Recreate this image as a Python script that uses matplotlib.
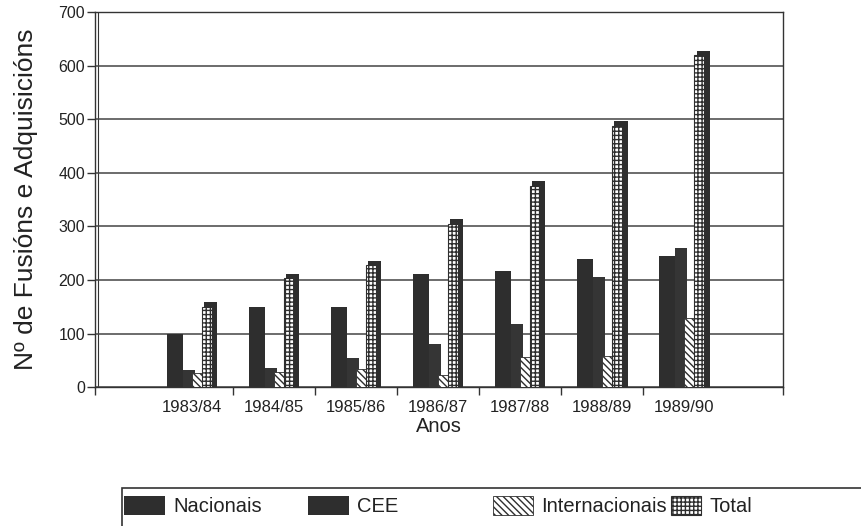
import numpy as np
import matplotlib.pyplot as plt
from matplotlib.patches import Patch, Rectangle

anos = ['1983/84', '1984/85', '1985/86', '1986/87', '1987/88', '1988/89', '1989/90']
nacionais = [100, 150, 150, 212, 216, 240, 245]
cee = [32, 36, 54, 80, 118, 206, 260]
internacionais = [27, 28, 33, 22, 56, 58, 129]
total = [150, 204, 228, 305, 376, 488, 620]

plt.rcParams['font.family'] = ['Liberation Sans', 'DejaVu Sans']
plt.rcParams['hatch.linewidth'] = 1.0

dark = '#2e2e2e'
fig = plt.figure(figsize=(8.62, 5.26), dpi=100)
ax = fig.add_axes([0.110, 0.264, 0.798, 0.713])

x = np.arange(len(anos))
ax.bar(x - 0.305, nacionais, width=0.2, align='edge', color=dark, zorder=3)
ax.bar(x - 0.11, cee, width=0.15, align='edge', color='#353535', zorder=3)
ax.bar(x + 0.0, internacionais, width=0.12, align='edge', color='white',
       edgecolor=dark, hatch='\\\\\\\\\\', linewidth=0.6, zorder=4)
# lado escuro do 3D para o total
ax.bar(x + 0.15, [t + 8 for t in total], width=0.16, align='edge', color=dark, zorder=3)
ax.bar(x + 0.12, total, width=0.125, align='edge', color='white',
       edgecolor=dark, hatch='++++', linewidth=0.8, zorder=4)

ax.set_xlim(-1.18, 7.2)
ax.set_ylim(0, 700)
ax.set_yticks(range(0, 701, 100))
ax.grid(axis='y', color='#444444', linewidth=1.1, zorder=0)
ax.tick_params(axis='y', direction='out', length=6, width=1, colors='#333333',
               labelsize=11.5, labelcolor='#222222', pad=1)

# marcas entre anos e etiquetas centradas
ax.set_xticks([-1.18, 0.5, 1.5, 2.5, 3.5, 4.5, 5.5, 7.2])
ax.set_xticklabels([])
ax.tick_params(axis='x', which='major', direction='out', length=6, width=1, colors='#333333')
ax.set_xticks(x, minor=True)
ax.set_xticklabels(anos, minor=True)
ax.tick_params(axis='x', which='minor', length=0, pad=9, labelsize=12, labelcolor='#222222')

for s in ax.spines.values():
    s.set_color('#333333')
    s.set_linewidth(1.0)
ax.axvline(-1.18 + 3 / 82, color='#333333', linewidth=0.8, zorder=1)

ax.set_xlabel('Anos', fontsize=14.5, color='#222222', labelpad=2)
ax.set_ylabel('Nº de Fusións e Adquisicións', fontsize=19, color='#222222', labelpad=15)

fig.patches.append(Rectangle((122 / 862, -0.02), 0.9, (526 - 488) / 526 + 0.02,
                             transform=fig.transFigure, fill=False,
                             edgecolor='#333333', linewidth=1.2))
handles = [Patch(facecolor=dark),
           Patch(facecolor=dark),
           Patch(facecolor='white', edgecolor=dark, hatch='\\\\\\\\\\', linewidth=0.6),
           Patch(facecolor='white', edgecolor=dark, hatch='++++', linewidth=0.8)]
labels = ['Nacionais', 'CEE', 'Internacionais', 'Total']
lefts = [124, 308, 493, 671]
hlens = [2.05, 2.05, 2.0, 1.5]
for h, lab, lx, hl in zip(handles, labels, lefts, hlens):
    fig.legend([h], [lab], loc='center left', bbox_to_anchor=(lx / 862, 1 - 506 / 526),
               frameon=False, fontsize=14.5, handlelength=hl, handleheight=1.1,
               handletextpad=0.4, borderpad=0, borderaxespad=0, labelcolor='#222222')

fig.savefig('out.png', dpi=100, facecolor='white')
